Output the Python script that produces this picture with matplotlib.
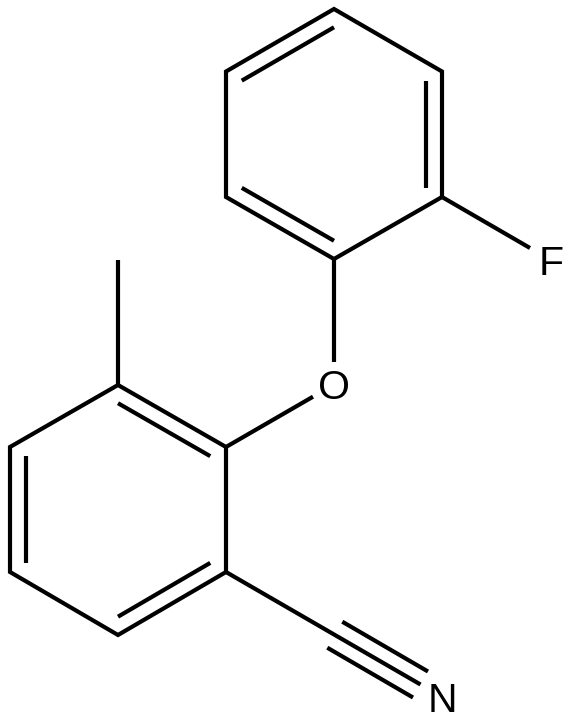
import numpy as np
import matplotlib
matplotlib.use("Agg")
import matplotlib.pyplot as plt
from matplotlib.patches import Polygon

# Atom positions (pixels)
upper_ring_x = [334, 442, 442, 334, 226, 226]
upper_ring_y = [9, 71.5, 197, 259, 197, 71.5]
lower_ring_x = [226, 118, 10, 10, 118, 226]
lower_ring_y = [447, 385, 447, 572, 635, 572]

# Bonds as (x0, y0, x1, y1)
single_bonds = [
    (442, 197, 530, 248),    # ring - F
    (334, 259, 334, 362),    # ring - O
    (313, 396.7, 226, 447),  # O - ring
    (118, 385, 118, 260),    # methyl
]
nitrile = (226, 572, 420.5, 684.5)
nitrile_carbon = (334.8, 634.7)

# Which ring edges are double
upper_doubles = [(1, 2), (3, 4), (5, 0)]
lower_doubles = [(0, 1), (2, 3), (4, 5)]

labels = ["F", "O", "N"]
label_x = [551, 333.7, 442.5]
label_y = [275, 399, 712]  # baselines

LW = 3.0
INNER = 0.854
COLOR = "black"

fig = plt.figure(figsize=(5.72, 7.22), dpi=100)
ax = fig.add_axes([0, 0, 1, 1])
ax.set_xlim(0, 572)
ax.set_ylim(722, 0)
ax.axis("off")


def draw_ring(xs, ys, doubles):
    pts = np.column_stack([xs, ys])
    ax.add_patch(Polygon(pts, closed=True, fill=False, edgecolor=COLOR, linewidth=LW, joinstyle="miter"))
    center = pts.mean(axis=0)
    inner = center + (pts - center) * INNER
    for a, b in doubles:
        ax.plot([inner[a, 0], inner[b, 0]], [inner[a, 1], inner[b, 1]],
                color=COLOR, lw=LW, solid_capstyle="butt")


draw_ring(upper_ring_x, upper_ring_y, upper_doubles)
draw_ring(lower_ring_x, lower_ring_y, lower_doubles)

for x0, y0, x1, y1 in single_bonds:
    ax.plot([x0, x1], [y0, y1], color=COLOR, lw=LW, solid_capstyle="butt")

# nitrile with the two extra lines
ax.plot([nitrile[0], nitrile[2]], [nitrile[1], nitrile[3]], color=COLOR, lw=LW, solid_capstyle="butt")
for sign in (1, -1):
    dx, dy = 7.5 * sign, -13 * sign
    ax.plot([nitrile_carbon[0] + dx, nitrile[2] + dx], [nitrile_carbon[1] + dy, nitrile[3] + dy],
            color=COLOR, lw=LW, solid_capstyle="butt")

for s, x, y in zip(labels, label_x, label_y):
    ax.text(x, y, s, ha="center", va="baseline", fontsize=29.5, family="Liberation Sans", color=COLOR)

fig.savefig("out.png", dpi=100)
